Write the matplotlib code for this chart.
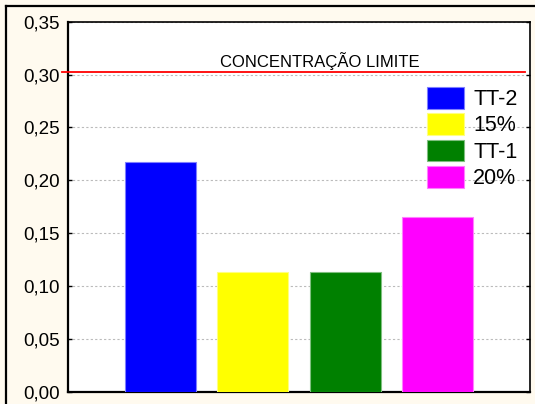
import matplotlib
matplotlib.use("Agg")
import matplotlib.pyplot as plt
import matplotlib.transforms as mtransforms
from matplotlib.patches import Patch
from matplotlib.lines import Line2D

plt.rcParams['font.family'] = ['Liberation Sans', 'DejaVu Sans']

categories = ["TT-2", "15%", "TT-1", "20%"]
values = [0.217, 0.113, 0.113, 0.165]
colors = ["#0000ff", "#ffff00", "#008000", "#ff00ff"]
edge_colors = ["#7f7fff", "#ffff7f", "#7fbf7f", "#ff7fff"]
limit = 0.302
limit_label = "CONCENTRAÇÃO LIMITE"
yticks = [0.00, 0.05, 0.10, 0.15, 0.20, 0.25, 0.30, 0.35]
ytick_labels = ["0,00", "0,05", "0,10", "0,15", "0,20", "0,25", "0,30", "0,35"]

fig = plt.figure(figsize=(5.35, 4.04), dpi=100)
fig.patch.set_facecolor("#fffaef")
W, H = 535, 404
ax = fig.add_axes([68 / W, (404 - 391.7) / H, (530 - 68) / W, (391.7 - 21.7) / H])
ax.set_facecolor("white")

x = list(range(len(categories)))
ax.bar(x, values, width=0.77, color=colors, edgecolor=edge_colors, linewidth=0.8, zorder=3)

ax.set_xlim(-1, 4)
ax.set_ylim(0, 0.35)
ax.set_yticks(yticks)
ax.set_yticklabels(ytick_labels)
ax.set_xticks([])
ax.tick_params(axis='y', direction='in', length=3, width=1, labelsize=13.5, pad=6,
               right=True, left=True)
ax.yaxis.grid(True, linestyle=(0, (2, 2)), color="#bbbbbb", linewidth=0.8, zorder=0)
ax.set_axisbelow(True)

for s in ['left', 'bottom']:
    ax.spines[s].set_linewidth(1.6)
for s in ['top', 'right']:
    ax.spines[s].set_linewidth(1.2)

ax.axhline(limit, xmin=-0.013, xmax=0.989, color="#ff0000", linewidth=1.3, clip_on=False, zorder=4)
ax.text(0.545, limit + 0.002, limit_label,
        transform=mtransforms.blended_transform_factory(ax.transAxes, ax.transData),
        ha="center", va="bottom", fontsize=12)

handles = [Patch(facecolor=c, edgecolor=e, linewidth=0.8) for c, e in zip(colors, edge_colors)]
ax.legend(handles, categories, loc="upper left",
          bbox_to_anchor=((427 - 68) / 462, (391.7 - 87) / 370),
          frameon=False, fontsize=15.5, handlelength=1.7, handleheight=1.17,
          handletextpad=0.45, labelspacing=0.15, borderpad=0, borderaxespad=0)

# figure border (left and top)
fig.add_artist(Line2D([5.5 / W, 5.5 / W], [0, 1 - 5.5 / H], color="black", linewidth=1.6,
                      transform=fig.transFigure))
fig.add_artist(Line2D([5.5 / W, 1], [1 - 5.5 / H, 1 - 5.5 / H], color="black", linewidth=1.6,
                      transform=fig.transFigure))

fig.savefig("out.png", dpi=100, facecolor=fig.get_facecolor())
